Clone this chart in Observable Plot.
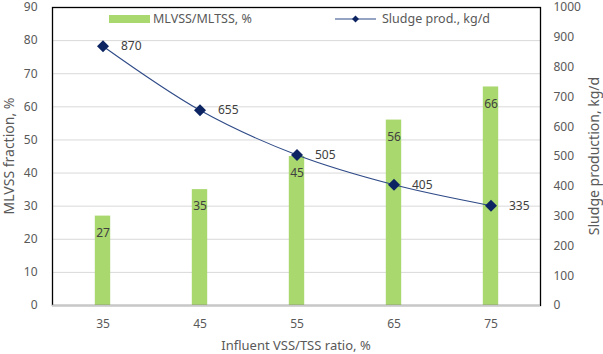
<!DOCTYPE html>
<html><head><meta charset="utf-8">
<script src="https://cdn.jsdelivr.net/npm/d3@7"></script>
<script src="https://cdn.jsdelivr.net/npm/@observablehq/plot@0.6"></script>
<style>
body{margin:0;background:#fff;font-family:"Noto Sans",sans-serif}
#wrap{position:relative;width:603px;height:354px}
.lab{position:absolute;color:#595959;white-space:nowrap;font-size:13px;line-height:1}
.leg{position:absolute;color:#595959;white-space:nowrap;font-size:12.5px;line-height:1}
</style></head><body>
<div id="wrap"></div>
<script>
const ratios = [35, 45, 55, 65, 75];
const mlvss = [27, 35, 45, 56, 66];
const sludge = [870, 655, 505, 405, 335];
const leftTicks = [0, 10, 20, 30, 40, 50, 60, 70, 80, 90];
const rightTicks = [0, 100, 200, 300, 400, 500, 600, 700, 800, 900, 1000];

const data = ratios.map((r, i) => ({r, m: mlvss[i], s: sludge[i]}));
const k = 90 / 1000;
const font = '"Noto Sans", sans-serif';

const plot = Plot.plot({
  width: 603, height: 354,
  marginLeft: 52, marginRight: 63, marginTop: 7, marginBottom: 49,
  style: {fontFamily: font, fontSize: "11.5px", color: "#595959", background: "#fff", overflow: "visible"},
  x: {type: "band", domain: ratios, padding: 0, label: null},
  y: {domain: [0, 90], label: null},
  marks: [
    Plot.gridY(leftTicks, {stroke: "#d9d9d9", strokeOpacity: 1}),
    Plot.barY(data, {x: "r", y: "m", fill: "#a9d86e", insetLeft: 40.8, insetRight: 40.8}),
    Plot.text(data, {x: "r", y: "m", text: d => String(d.m), dy: 17, fill: "#404040", fontSize: 12}),
    Plot.line(data, {x: "r", y: d => d.s * k, stroke: "#2e4a87", strokeWidth: 1.1, curve: "monotone-x"}),
    Plot.dot(data, {x: "r", y: d => d.s * k, symbol: "diamond2", r: 5.4, fill: "#0c2461", stroke: "none"}),
    Plot.text(data, {x: "r", y: d => d.s * k, text: d => String(d.s), dx: 18, textAnchor: "start", fill: "#404040", fontSize: 12}),
    Plot.frame({stroke: "#000", strokeWidth: 1.3}),
    Plot.ruleY([0], {stroke: "#c8c8c8", strokeWidth: 1.5}),
    Plot.axisY(leftTicks, {anchor: "left", tickSize: 0, tickPadding: 15, label: null, fontSize: 12}),
    Plot.axisY(rightTicks.map(v => v * k), {anchor: "right", tickSize: 0, tickPadding: 13, label: null,
      tickFormat: v => String(Math.round(v / k)), fontSize: 12}),
    Plot.axisX(ratios, {tickSize: 0, tickPadding: 14, label: null, fontSize: 12})
  ]
});
const wrap = document.getElementById("wrap");
wrap.appendChild(plot);

function addText(cls, txt, css) {
  const d = document.createElement("div");
  d.className = cls; d.textContent = txt;
  Object.assign(d.style, css);
  wrap.appendChild(d);
  return d;
}
// axis titles
addText("lab", "Influent VSS/TSS ratio, %", {left: "296px", top: "345px", transform: "translate(-50%,-50%)"});
addText("lab", "MLVSS fraction, %", {left: "9px", top: "156px", transform: "translate(-50%,-50%) rotate(-90deg)", fontSize: "14px"});
addText("lab", "Sludge production, kg/d", {left: "594px", top: "156px", transform: "translate(-50%,-50%) rotate(-90deg)", fontSize: "14px"});

// legend
const sw = document.createElement("div");
Object.assign(sw.style, {position: "absolute", left: "109px", top: "15px", width: "41px", height: "8px", background: "#a9d86e"});
wrap.appendChild(sw);
addText("leg", "MLVSS/MLTSS, %", {left: "153px", top: "19px", transform: "translateY(-50%)"});
const ln = document.createElementNS("http://www.w3.org/2000/svg", "svg");
ln.setAttribute("width", "42"); ln.setAttribute("height", "12");
Object.assign(ln.style, {position: "absolute", left: "335px", top: "13px"});
ln.innerHTML = '<line x1="0" y1="6" x2="41" y2="6" stroke="#2e4a87" stroke-width="1.2"/><path d="M20.5,2.5L24,6L20.5,9.5L17,6Z" fill="#0c2461"/>';
wrap.appendChild(ln);
addText("leg", "Sludge prod., kg/d", {left: "382px", top: "19px", transform: "translateY(-50%)"});
</script>
</body></html>
